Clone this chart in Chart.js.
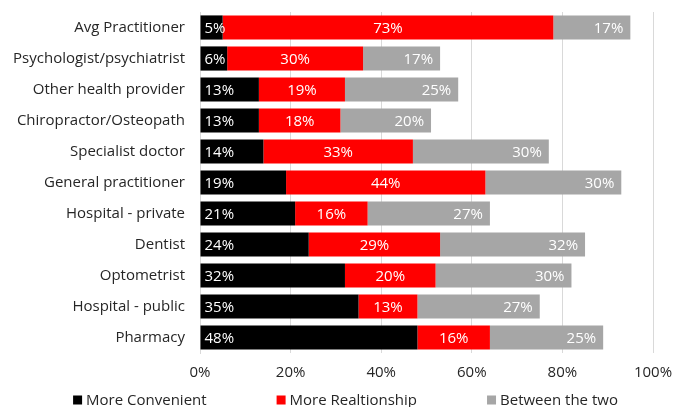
<!DOCTYPE html>
<html>
<head>
<meta charset="utf-8">
<script src="https://cdn.jsdelivr.net/npm/chart.js@4"></script>
<style>
  html, body { margin: 0; padding: 0; background: #fff; }
  #wrap { width: 673px; height: 407px; }
</style>
</head>
<body>
<div id="wrap"><canvas id="chart"></canvas></div>
<script>
// providers, top to bottom
const providers = [
  'Avg Practitioner', 'Psychologist/psychiatrist', 'Other health provider',
  'Chiropractor/Osteopath', 'Specialist doctor', 'General practitioner',
  'Hospital - private', 'Dentist', 'Optometrist', 'Hospital - public', 'Pharmacy'
];
const moreConvenient   = [5, 6, 13, 13, 14, 19, 21, 24, 32, 35, 48];
const moreRelationship = [73, 30, 19, 18, 33, 44, 16, 29, 20, 13, 16];
const betweenTheTwo    = [17, 17, 25, 20, 30, 30, 27, 32, 30, 27, 25];
const xTicks = [0, 20, 40, 60, 80, 100];

const FONT = '"Open Sans", sans-serif';
const SIZE = 15;
const TEXT = '#262626';

// white % labels inside each segment: first at the start, middle centred, last at the end
const barLabels = {
  id: 'barLabels',
  afterDatasetsDraw(chart) {
    const ctx = chart.ctx;
    ctx.save();
    ctx.font = SIZE + 'px ' + FONT;
    ctx.fillStyle = '#fff';
    ctx.textBaseline = 'middle';
    chart.data.datasets.forEach((ds, di) => {
      const meta = chart.getDatasetMeta(di);
      meta.data.forEach((bar, i) => {
        const txt = ds.data[i] + '%';
        if (di === 0) {
          ctx.textAlign = 'left';
          ctx.fillText(txt, bar.base + 4, bar.y + 1);
        } else if (di === 1) {
          ctx.textAlign = 'center';
          ctx.fillText(txt, (bar.base + bar.x) / 2, bar.y + 1);
        } else {
          ctx.textAlign = 'right';
          ctx.fillText(txt, bar.x - 7, bar.y + 1);
        }
      });
    });
    ctx.restore();
  }
};

// legend row along the bottom with small square markers
const bottomLegend = {
  id: 'bottomLegend',
  afterDraw(chart) {
    const ctx = chart.ctx;
    const box = 9, gap = 4, spacing = 70;
    ctx.save();
    ctx.font = SIZE + 'px ' + FONT;
    ctx.textBaseline = 'middle';
    ctx.textAlign = 'left';
    const items = chart.data.datasets.map(ds => ({
      label: ds.label, color: ds.backgroundColor,
      w: box + gap + ctx.measureText(ds.label).width
    }));
    const total = items.reduce((s, it) => s + it.w, 0) + spacing * (items.length - 1);
    let x = chart.width / 2 + 9 - total / 2;
    const y = chart.height - 7;
    items.forEach(it => {
      ctx.fillStyle = it.color;
      ctx.fillRect(x, y - box / 2, box, box);
      ctx.fillStyle = TEXT;
      ctx.fillText(it.label, x + box + gap, y + 1);
      x += it.w + spacing;
    });
    ctx.restore();
  }
};

new Chart(document.getElementById('chart'), {
  type: 'bar',
  data: {
    labels: providers,
    datasets: [
      { label: 'More Convenient', data: moreConvenient, backgroundColor: '#000000' },
      { label: 'More Realtionship', data: moreRelationship, backgroundColor: '#ff0000' },
      { label: 'Between the two', data: betweenTheTwo, backgroundColor: '#a6a6a6' }
    ]
  },
  options: {
    indexAxis: 'y',
    responsive: true,
    maintainAspectRatio: false,
    animation: false,
    datasets: { bar: { categoryPercentage: 0.78, barPercentage: 1.0 } },
    layout: { padding: { left: 0, right: 20, top: 12, bottom: 14 } },
    scales: {
      x: {
        stacked: true,
        min: 0, max: 100,
        afterBuildTicks(scale) { scale.ticks = xTicks.map(v => ({ value: v })); },
        afterFit(scale) { scale.paddingLeft = 0; scale.paddingRight = 0; },
        grid: { color: '#d9d9d9', drawTicks: false },
        border: { display: false },
        ticks: {
          padding: 11,
          color: TEXT,
          font: { family: FONT, size: SIZE },
          callback: v => v + '%'
        }
      },
      y: {
        stacked: true,
        afterFit(scale) {
          scale.width = 200;
          scale.paddingTop = 0;
          scale.paddingBottom = 0;
        },
        grid: { display: false, drawTicks: false },
        border: { display: true, color: '#d9d9d9' },
        ticks: {
          padding: 15,
          color: TEXT,
          font: { family: FONT, size: SIZE }
        }
      }
    },
    plugins: {
      legend: { display: false },
      tooltip: { enabled: false }
    }
  },
  plugins: [barLabels, bottomLegend]
});
</script>
</body>
</html>
